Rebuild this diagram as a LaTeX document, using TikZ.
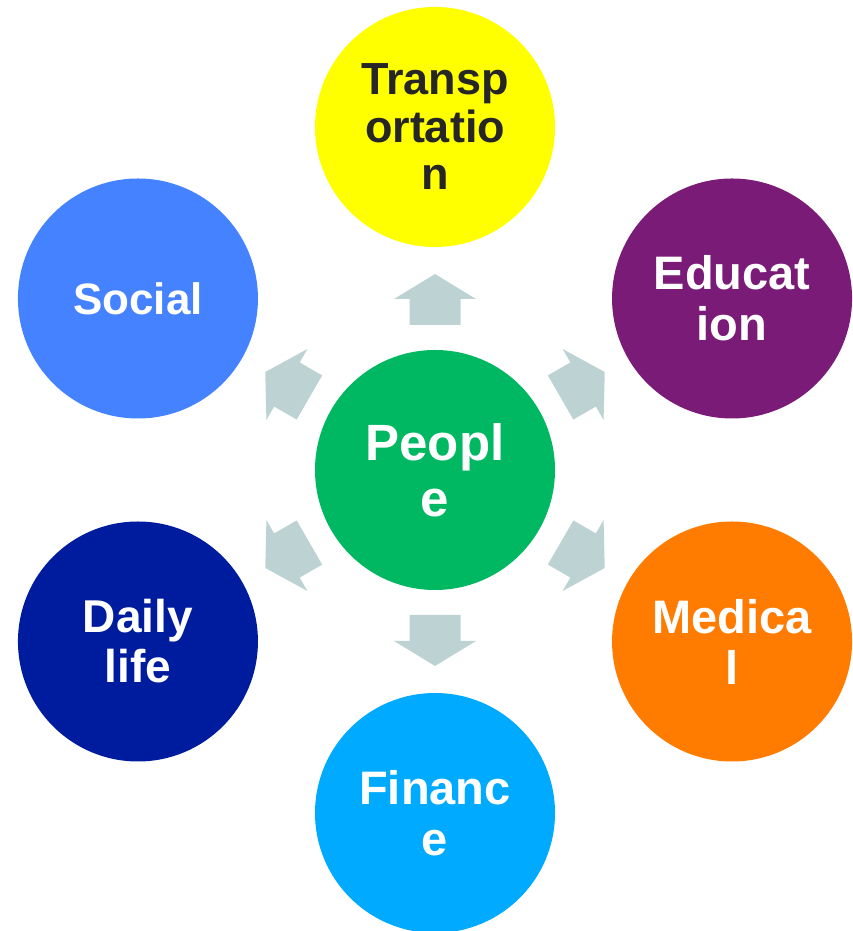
\documentclass[tikz,border=0pt]{standalone}
\usepackage{fontspec}
\setmainfont{Liberation Sans}
\usetikzlibrary{calc}
\definecolor{cgreen}{HTML}{00B862}
\definecolor{cyellow}{HTML}{FFFF00}
\definecolor{cpurple}{HTML}{7B1B78}
\definecolor{corange}{HTML}{FF7C00}
\definecolor{ccyan}{HTML}{00AAFF}
\definecolor{cdark}{HTML}{001C9E}
\definecolor{cblue}{HTML}{4482FF}
\definecolor{carrow}{HTML}{BDD3D3}
\definecolor{ctext}{HTML}{262626}
\begin{document}
\begin{tikzpicture}[x=1pt,y=1pt,
  bubble/.style={circle, minimum size=240pt, inner sep=0pt, draw=none, align=center, text=white,
     font=\fontsize{47}{51}\selectfont\bfseries},
  blockarrow/.style={fill=carrow, draw=none}]
\useasboundingbox (0,0) rectangle (852,931);
\coordinate (c) at (435,461);
\node[bubble, fill=cgreen, font=\fontsize{51}{56}\selectfont\bfseries] (people) at (c) {Peopl\\e};
\node[bubble, fill=cyellow, text=ctext, font=\fontsize{45}{47.5}\selectfont\bfseries] (transport) at ($(c)+(90:343)$) {Transp\\ortatio\\n};
\node[bubble, fill=cpurple] (education) at ($(c)+(30:343)$) {Educat\\ion};
\node[bubble, fill=corange] (medical) at ($(c)+(-30:343)$) {Medica\\l};
\node[bubble, fill=ccyan] (finance) at ($(c)+(-90:343)$) {Financ\\e};
\node[bubble, fill=cdark, font=\fontsize{46}{50}\selectfont\bfseries] (daily) at ($(c)+(-150:343)$) {Daily\\life};
\node[bubble, fill=cblue, font=\fontsize{44}{48}\selectfont\bfseries] (social) at ($(c)+(150:343)$) {Social};
\foreach \a in {90,30,-30,-90,-150,150}{
  \begin{scope}[shift={(c)}, rotate=\a]
    \fill[blockarrow] (145,-25.5) -- (171,-25.5) -- (171,-41) -- (196,0) -- (171,41) -- (171,25.5) -- (145,25.5) -- cycle;
  \end{scope}
}
\end{tikzpicture}
\end{document}
